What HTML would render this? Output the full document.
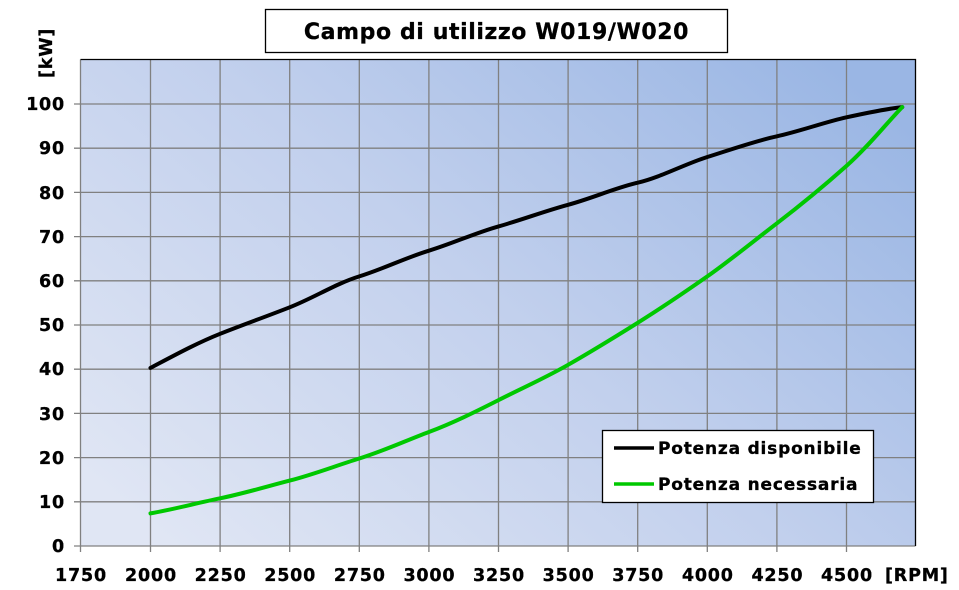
<!DOCTYPE html>
<html><head><meta charset="utf-8"><style>
html,body{margin:0;padding:0;background:#fff;}
svg{display:block;}
text{font-family:"DejaVu Sans","Liberation Sans",sans-serif;font-weight:bold;fill:#000;}
</style></head><body>
<svg width="959" height="590" viewBox="0 0 959 590" xmlns="http://www.w3.org/2000/svg">
<defs>
<linearGradient id="bg" x1="0" y1="0.85" x2="1" y2="0.15">
<stop offset="0" stop-color="#e0e6f4"/>
<stop offset="0.5" stop-color="#c2d0ed"/>
<stop offset="1" stop-color="#9ab6e4"/>
</linearGradient>
</defs>
<rect x="80.5" y="59.5" width="835" height="486.5" fill="url(#bg)"/>
<g stroke="#808080" stroke-width="1.3" fill="none">
<path d="M150.5 59.5V552M220.1 59.5V552M289.7 59.5V552M359.3 59.5V552M428.9 59.5V552M498.5 59.5V552M568.1 59.5V552M637.7 59.5V552M707.3 59.5V552M776.9 59.5V552M846.5 59.5V552M80.5 546V552"/>
<path d="M74 546H915.5M74 501.8H915.5M74 457.6H915.5M74 413.4H915.5M74 369.2H915.5M74 325H915.5M74 280.8H915.5M74 236.6H915.5M74 192.4H915.5M74 148.2H915.5M74 104H915.5"/>
<path d="M80.5 59.5V546"/>
</g>
<path d="M80.5 59.5H915.5V546" stroke="#000" stroke-width="1.3" fill="none"/>
<path d="M150.5 367.9 C175 355 197 343 220.1 333.8 S265 317 289.7 307.3 S335 284 359.3 276.4 S405 258 428.9 250.7 S475 233 498.5 226.4 S545 211 568.1 204.8 S615 188 637.7 182.7 S685 164 707.3 157 S755 141 776.9 136.3 S825 122 846.5 117.3 S885 109 902.2 107.1" stroke="#000" stroke-width="4" fill="none" stroke-linecap="round"/>
<path d="M150.5 513.4 C175 509 197 503 220.1 498.3 S265 487 289.7 480.6 S335 466 359.3 458.5 S405 441 428.9 432 S475 412 498.5 400.1 S545 378 568.1 364.8 S615 337 637.7 322.8 S685 292 707.3 276.4 S755 240 776.9 223.3 S825 185 846.5 165.9 S885 125 902.2 107.1" stroke="#00c800" stroke-width="4" fill="none" stroke-linecap="round"/>
<g font-size="17.5" text-anchor="end" letter-spacing="0.8" stroke="#000" stroke-width="0.3">
<text x="65" y="552">0</text><text x="65" y="508">10</text><text x="65" y="464">20</text><text x="65" y="420">30</text><text x="65" y="375">40</text><text x="65" y="331">50</text><text x="65" y="287">60</text><text x="65" y="243">70</text><text x="65" y="199">80</text><text x="65" y="154">90</text><text x="65" y="110">100</text>
</g>
<g font-size="17.5" text-anchor="middle" letter-spacing="0.8" stroke="#000" stroke-width="0.3">
<text x="81" y="581">1750</text><text x="151" y="581">2000</text><text x="220.6" y="581">2250</text><text x="290.2" y="581">2500</text><text x="359.8" y="581">2750</text><text x="429.4" y="581">3000</text><text x="499" y="581">3250</text><text x="568.6" y="581">3500</text><text x="638.2" y="581">3750</text><text x="707.8" y="581">4000</text><text x="777.4" y="581">4250</text><text x="847" y="581">4500</text>
</g>
<text x="885" y="581" font-size="17.5" letter-spacing="0.8" stroke="#000" stroke-width="0.3">[RPM]</text>
<text transform="translate(52,78) rotate(-90)" font-size="17.5" letter-spacing="0.8" stroke="#000" stroke-width="0.3">[kW]</text>
<rect x="265.5" y="9.5" width="462" height="43" fill="#fff" stroke="#000" stroke-width="1.3"/>
<text x="496.5" y="39" font-size="22" text-anchor="middle" letter-spacing="0.6" stroke="#000" stroke-width="0.3">Campo di utilizzo W019/W020</text>
<rect x="602.5" y="430.5" width="271" height="72" fill="#fff" stroke="#000" stroke-width="1.3"/>
<path d="M614 448H654" stroke="#000" stroke-width="3.5"/>
<path d="M614 484H654" stroke="#00c800" stroke-width="3.5"/>
<g font-size="17" letter-spacing="0.8" stroke="#000" stroke-width="0.3"><text x="658" y="454">Potenza disponibile</text><text x="658" y="490">Potenza necessaria</text></g>
</svg>
</body></html>
